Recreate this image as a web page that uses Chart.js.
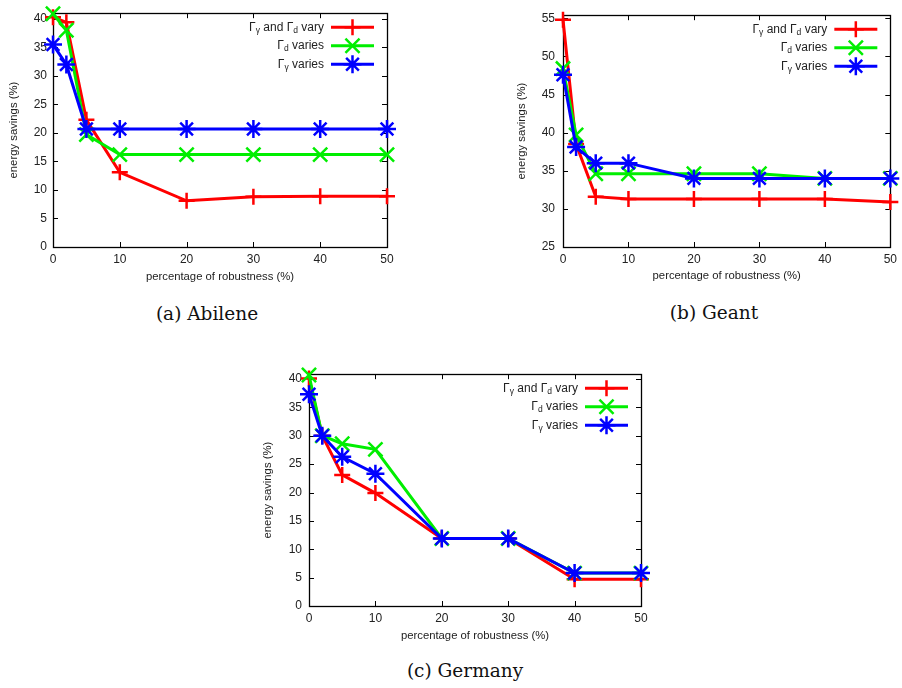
<!DOCTYPE html>
<html>
<head>
<meta charset="utf-8">
<script src="https://cdn.jsdelivr.net/npm/chart.js@4.4.0/dist/chart.umd.min.js"></script>
<style>
  body { margin: 0; background: #fff; width: 902px; height: 688px; position: relative; overflow: hidden; }
  canvas { position: absolute; }
  .caption { position: absolute; font-family: "DejaVu Serif", serif; font-size: 18.5px; color: #111; transform: translate(-50%, -50%); white-space: nowrap; }
</style>
</head>
<body>
<canvas id="abilene" width="400" height="290" style="left:0px;top:0px"></canvas>
<canvas id="geant" width="402" height="290" style="left:500px;top:0px"></canvas>
<canvas id="germany" width="410" height="290" style="left:250px;top:360px"></canvas>
<div class="caption" style="left:207px;top:313px">(a) Abilene</div>
<div class="caption" style="left:714px;top:312px">(b) Geant</div>
<div class="caption" style="left:465px;top:670px">(c) Germany</div>
<script>
// valeurs
const robustness = [0, 2, 5, 10, 20, 30, 40, 50];
const xTicks = [0, 10, 20, 30, 40, 50];

const abileneBoth = [40.3, 39.4, 22.3, 13.1, 8.1, 8.8, 8.9, 8.9];
const abileneGd   = [40.9, 38.0, 19.7, 16.2, 16.2, 16.2, 16.2, 16.2];
const abileneGy   = [35.5, 32.0, 20.7, 20.7, 20.7, 20.7, 20.7, 20.7];
const abileneYTicks = [0, 5, 10, 15, 20, 25, 30, 35, 40];

const geantBoth = [54.8, 38.5, 31.6, 31.3, 31.3, 31.3, 31.3, 30.9];
const geantGd   = [48.4, 39.7, 34.6, 34.6, 34.6, 34.6, 34.0, 34.0];
const geantGy   = [47.6, 38.1, 36.0, 36.0, 34.0, 34.0, 34.0, 34.0];
const geantYTicks = [25, 30, 35, 40, 45, 50, 55];

const germanyBoth = [40.1, 30.0, 23.1, 19.9, 11.9, 11.9, 4.7, 4.7];
const germanyGd   = [40.7, 30.0, 28.6, 27.6, 11.9, 11.9, 5.8, 5.8];
const germanyGy   = [37.3, 30.0, 26.3, 23.3, 11.9, 11.9, 5.8, 5.8];
const germanyYTicks = [0, 5, 10, 15, 20, 25, 30, 35, 40];

const legendLabels = [
    [['Γ'], ['γ', 1], [' and Γ'], ['d', 1], [' vary']],
    [['Γ'], ['d', 1], [' varies']],
    [['Γ'], ['γ', 1], [' varies']]
];

const styles = [
    { color: '#ff0000', pointStyle: 'cross', radius: 8, order: 3 },
    { color: '#00ee00', pointStyle: 'crossRot', radius: 10, order: 2 },
    { color: '#0000ff', pointStyle: 'star', radius: 9, order: 1 }
];

const textColor = '#222';
const sansFont = '"Liberation Sans", Arial, sans-serif';

// cadre + petits ticks vers l'interieur (style gnuplot) et legende
const gnuplotFrame = {
    id: 'gnuplotFrame',
    beforeDatasetsDraw(chart) {
        const { ctx, chartArea: a, scales } = chart;
        ctx.save();
        ctx.strokeStyle = '#000';
        ctx.lineWidth = 1;
        ctx.beginPath();
        scales.x.ticks.forEach(t => {
            const px = Math.round(scales.x.getPixelForValue(t.value)) + 0.5;
            ctx.moveTo(px, a.bottom); ctx.lineTo(px, a.bottom - 5);
            ctx.moveTo(px, a.top); ctx.lineTo(px, a.top + 5);
        });
        scales.y.ticks.forEach(t => {
            const py = Math.round(scales.y.getPixelForValue(t.value)) + 0.5;
            ctx.moveTo(a.left, py); ctx.lineTo(a.left + 5, py);
            ctx.moveTo(a.right, py); ctx.lineTo(a.right - 5, py);
        });
        ctx.stroke();
        ctx.lineWidth = 1.3;
        ctx.strokeRect(Math.round(a.left) + 0.5, Math.round(a.top) + 0.5,
            Math.round(a.right - a.left), Math.round(a.bottom - a.top));
        ctx.restore();
    },
    afterDatasetsDraw(chart) {
        const { ctx, chartArea: a } = chart;
        ctx.save();
        chart.data.datasets.forEach((ds, i) => {
            const y = a.top + 14 + i * 18.5;
            const x1 = a.right - 13, x0 = x1 - 43;
            ctx.strokeStyle = ds.borderColor;
            ctx.lineWidth = 3;
            ctx.beginPath();
            ctx.moveTo(x0, y); ctx.lineTo(x1, y);
            ctx.stroke();
            ctx.lineWidth = ds.pointBorderWidth;
            Chart.helpers.drawPoint(ctx, { pointStyle: ds.pointStyle, radius: ds.pointRadius, borderWidth: ds.pointBorderWidth, rotation: 0 }, (x0 + x1) / 2, y);

            // texte aligne a droite avec indices
            const parts = legendLabels[i];
            const big = '12px ' + sansFont, small = '8.5px ' + sansFont;
            let w = 0;
            parts.forEach(p => { ctx.font = p[1] ? small : big; w += ctx.measureText(p[0]).width; });
            let x = x0 - 7 - w;
            ctx.fillStyle = textColor;
            ctx.textBaseline = 'middle';
            parts.forEach(p => {
                ctx.font = p[1] ? small : big;
                ctx.fillText(p[0], x, p[1] ? y + 3 : y);
                x += ctx.measureText(p[0]).width;
            });
        });
        ctx.restore();
    }
};

function makeChart(id, series, yTicks, yMin, yMax, box) {
    const datasets = series.map((values, i) => ({
        label: legendLabels[i].map(p => p[0]).join(''),
        data: robustness.map((x, k) => ({ x: x, y: values[k] })),
        borderColor: styles[i].color,
        backgroundColor: styles[i].color,
        borderWidth: 3,
        pointStyle: styles[i].pointStyle,
        pointRadius: styles[i].radius,
        pointBorderWidth: 2.5,
        pointBorderColor: styles[i].color,
        tension: 0,
        clip: false,
        order: styles[i].order
    }));

    return new Chart(document.getElementById(id), {
        type: 'line',
        data: { datasets: datasets },
        plugins: [gnuplotFrame],
        options: {
            responsive: false,
            animation: false,
            events: [],
            layout: { autoPadding: false, padding: { top: box.top, right: box.right, left: 0, bottom: 0 } },
            plugins: { legend: { display: false }, tooltip: { enabled: false } },
            scales: {
                x: {
                    type: 'linear',
                    min: 0,
                    max: 50,
                    afterBuildTicks: s => { s.ticks = xTicks.map(v => ({ value: v })); },
                    afterFit: s => { s.height = box.xHeight; },
                    grid: { display: false, drawTicks: false },
                    border: { display: false },
                    ticks: { color: textColor, font: { family: sansFont, size: 12 }, padding: 5, maxRotation: 0 },
                    title: { display: true, text: 'percentage of robustness (%)', color: textColor,
                        font: { family: sansFont, size: 11.3 }, padding: { top: 0, bottom: box.xTitle } }
                },
                y: {
                    min: yMin,
                    max: yMax,
                    afterBuildTicks: s => { s.ticks = yTicks.map(v => ({ value: v })); },
                    afterFit: s => { s.width = box.yWidth; },
                    grid: { display: false, drawTicks: false },
                    border: { display: false },
                    ticks: { color: textColor, font: { family: sansFont, size: 12 }, padding: box.yPad },
                    title: { display: true, text: 'energy savings (%)', color: textColor,
                        font: { family: sansFont, size: 11.3 }, padding: { top: box.yTitle, bottom: 0 } }
                }
            }
        }
    });
}

makeChart('abilene', [abileneBoth, abileneGd, abileneGy], abileneYTicks, 0, 41,
    { top: 7, right: 13, yWidth: 53, xHeight: 43, yPad: 6, xTitle: 6, yTitle: 7 });
makeChart('geant', [geantBoth, geantGd, geantGy], geantYTicks, 25, 55.4,
    { top: 6, right: 5, yWidth: 63, xHeight: 43, yPad: 8, xTitle: 7, yTitle: 15 });
makeChart('germany', [germanyBoth, germanyGd, germanyGy], germanyYTicks, 0, 40.85,
    { top: 9, right: 19, yWidth: 59, xHeight: 44, yPad: 7, xTitle: 7, yTitle: 11 });
</script>
</body>
</html>
